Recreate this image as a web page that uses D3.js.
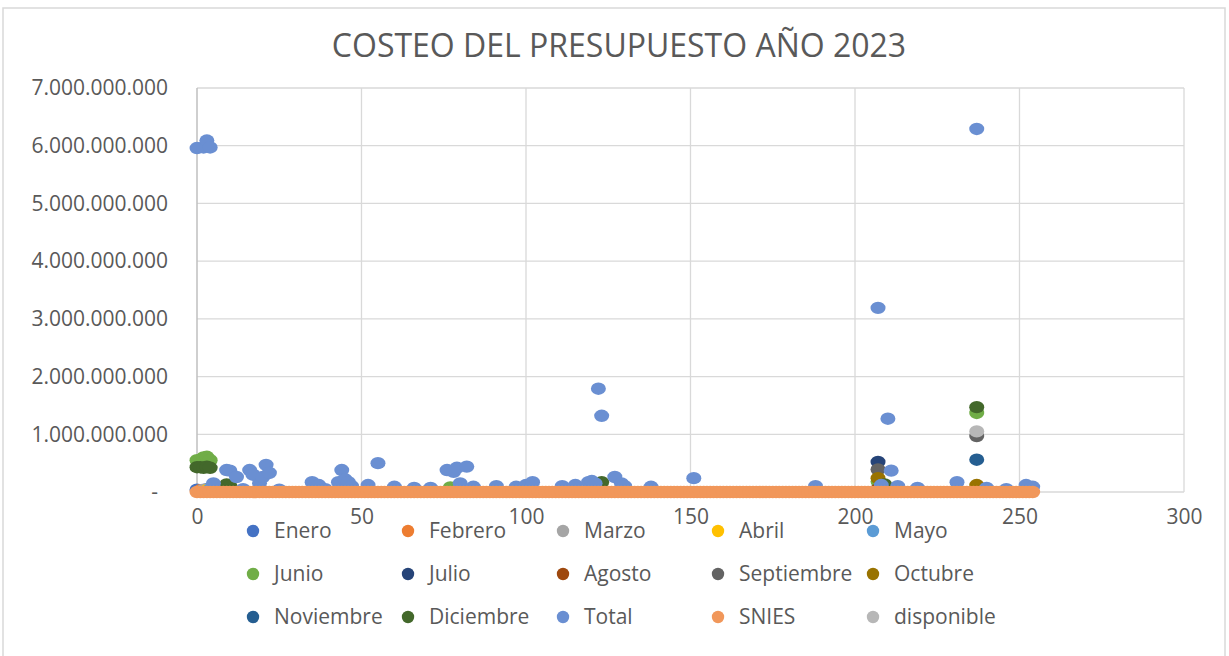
<!DOCTYPE html>
<html><head><meta charset="utf-8">
<script src="https://cdn.jsdelivr.net/npm/d3@7"></script>
<style>
html,body{margin:0;padding:0;background:#fff;}
svg{display:block;font-family:"Open Sans",sans-serif;}
</style></head>
<body>
<svg id="chart" width="1229" height="656"></svg>
<script>
// ---- data (values in pesos; x = row index) ----
const title = "COSTEO DEL PRESUPUESTO AÑO 2023";
const xTicks = [0, 50, 100, 150, 200, 250, 300];
const yTicks = [0, 1e9, 2e9, 3e9, 4e9, 5e9, 6e9, 7e9];

const enero = [[0, 0.04e9], [3, 0.05e9], [120, 0.03e9]];
const febrero = [[1, 0.03e9], [207, 0.04e9]];
const marzo = [[2, 0.04e9], [237, 0.05e9]];
const abril = [[3, 0.03e9], [207, 0.05e9]];
const mayo = [[4, 0.05e9], [207, 0.06e9]];
const junio = [[0, 0.55e9], [2, 0.60e9], [3, 0.61e9], [4, 0.55e9], [77, 0.08e9], [122, 0.09e9], [207, 0.18e9], [237, 1.37e9]];
const julio = [[207, 0.52e9]];
const agosto = [[207, 0.05e9], [237, 0.04e9]];
const septiembre = [[207, 0.39e9], [237, 0.97e9]];
const octubre = [[207, 0.24e9], [237, 0.12e9]];
const noviembre = [[237, 0.56e9]];
const diciembre = [[0, 0.43e9], [1, 0.43e9], [2, 0.42e9], [3, 0.44e9], [4, 0.42e9], [9, 0.13e9], [10, 0.10e9], [123, 0.17e9], [209, 0.13e9], [237, 1.47e9]];
const total = [
  [0, 5.96e9], [2, 5.97e9], [3, 6.09e9], [4, 5.97e9],
  [5, 0.15e9], [9, 0.38e9], [10, 0.37e9], [12, 0.26e9], [14, 0.05e9], [16, 0.38e9], [17, 0.30e9],
  [19, 0.15e9], [20, 0.26e9], [21, 0.47e9], [22, 0.33e9], [25, 0.04e9], [35, 0.17e9], [37, 0.12e9],
  [39, 0.05e9], [43, 0.17e9], [44, 0.38e9], [45, 0.22e9], [46, 0.17e9], [47, 0.10e9], [52, 0.12e9],
  [55, 0.50e9], [60, 0.09e9], [66, 0.07e9], [71, 0.07e9], [76, 0.38e9], [78, 0.35e9], [79, 0.42e9],
  [80, 0.15e9], [82, 0.44e9], [84, 0.09e9], [91, 0.10e9], [97, 0.09e9], [100, 0.12e9], [102, 0.17e9],
  [111, 0.10e9], [115, 0.12e9], [119, 0.17e9], [120, 0.19e9], [121, 0.15e9], [122, 1.79e9], [123, 1.32e9],
  [127, 0.26e9], [129, 0.15e9], [130, 0.10e9], [138, 0.09e9], [151, 0.24e9], [188, 0.10e9],
  [207, 3.19e9], [208, 0.12e9], [210, 1.27e9], [211, 0.37e9], [213, 0.10e9], [219, 0.07e9],
  [231, 0.17e9], [237, 6.29e9], [240, 0.07e9], [246, 0.05e9], [252, 0.12e9], [254, 0.09e9]
];
// SNIES: value per row (rows 0..254), all read as ~0 on this scale
const sniesValues = [
  0,0,0,0,0,0,0,0,0,0,0,0,0,0,0,0,0,0,0,0,0,0,0,0,0,0,0,0,0,0,0,0,0,0,0,0,0,0,0,0,0,0,0,0,0,0,0,0,0,0,0,
  0,0,0,0,0,0,0,0,0,0,0,0,0,0,0,0,0,0,0,0,0,0,0,0,0,0,0,0,0,0,0,0,0,0,0,0,0,0,0,0,0,0,0,0,0,0,0,0,0,0,0,
  0,0,0,0,0,0,0,0,0,0,0,0,0,0,0,0,0,0,0,0,0,0,0,0,0,0,0,0,0,0,0,0,0,0,0,0,0,0,0,0,0,0,0,0,0,0,0,0,0,0,0,
  0,0,0,0,0,0,0,0,0,0,0,0,0,0,0,0,0,0,0,0,0,0,0,0,0,0,0,0,0,0,0,0,0,0,0,0,0,0,0,0,0,0,0,0,0,0,0,0,0,0,0,
  0,0,0,0,0,0,0,0,0,0,0,0,0,0,0,0,0,0,0,0,0,0,0,0,0,0,0,0,0,0,0,0,0,0,0,0,0,0,0,0,0,0,0,0,0,0,0,0,0,0,0
];
const snies = sniesValues.map((v, i) => [i, v]);
const disponible = [[237, 1.05e9]];

const seriesNames = ["Enero","Febrero","Marzo","Abril","Mayo","Junio","Julio","Agosto","Septiembre","Octubre","Noviembre","Diciembre","Total","SNIES","disponible"];
const seriesData = [enero,febrero,marzo,abril,mayo,junio,julio,agosto,septiembre,octubre,noviembre,diciembre,total,snies,disponible];
const seriesColors = ["#4472C4","#ED7D31","#A5A5A5","#FFC000","#5B9BD5","#70AD47","#264478","#9E480E","#636363","#997300","#255E91","#43682B","#6A8FD2","#F1975A","#B7B7B7"];

// ---- drawing ----
const svg = d3.select("#chart");
const textCol = "#595959";
svg.append("rect").attr("x", 3).attr("y", 8).attr("width", 1222).attr("height", 660)
  .attr("fill", "#fff").attr("stroke", "#D9D9D9").attr("stroke-width", 1.5);

svg.append("text").attr("x", 619).attr("y", 57).attr("text-anchor", "middle")
  .attr("font-size", 32).attr("fill", textCol).text(title);

const x = d3.scaleLinear().domain([0, 300]).range([197, 1184]);
const y = d3.scaleLinear().domain([0, 7e9]).range([492, 88]);

// gridlines
svg.append("g").selectAll("line").data(yTicks).join("line")
  .attr("x1", x(0)).attr("x2", x(300)).attr("y1", d => y(d)).attr("y2", d => y(d))
  .attr("stroke", "#D9D9D9").attr("stroke-width", 1.3);
svg.append("g").selectAll("line").data(xTicks.slice(1)).join("line")
  .attr("x1", d => x(d)).attr("x2", d => x(d)).attr("y1", y(0)).attr("y2", y(7e9))
  .attr("stroke", "#D9D9D9").attr("stroke-width", 1.3);
svg.append("line").attr("x1", x(0)).attr("x2", x(0)).attr("y1", y(0)).attr("y2", y(7e9))
  .attr("stroke", "#BFBFBF").attr("stroke-width", 1.5);

// y axis labels
const fmtY = v => v === 0 ? "-" : d3.format(",")(v).replace(/,/g, ".");
const yAxis = d3.axisLeft(y).tickValues(yTicks).tickFormat(fmtY).tickSize(0).tickPadding(0);
const gy = svg.append("g").attr("transform", "translate(168,0)").call(yAxis);
gy.select(".domain").remove();
gy.selectAll("text").attr("font-size", 21).attr("font-family", "Open Sans").attr("fill", textCol)
  .attr("dx", d => d === 0 ? -10 : 0);

// x axis labels
const xAxis = d3.axisBottom(x).tickValues(xTicks).tickFormat(d3.format("d")).tickSize(0).tickPadding(0);
const gx = svg.append("g").attr("transform", "translate(0,509)").call(xAxis);
gx.select(".domain").remove();
gx.selectAll("text").attr("font-size", 21).attr("font-family", "Open Sans").attr("fill", textCol);

// points
const plot = svg.append("g");
seriesData.forEach((data, i) => {
  plot.append("g").selectAll("ellipse").data(data).join("ellipse")
    .attr("cx", d => x(d[0])).attr("cy", d => y(d[1]))
    .attr("rx", 7.5).attr("ry", 6.2)
    .attr("fill", seriesColors[i]);
});

// legend
const legend = svg.append("g");
seriesNames.forEach((name, i) => {
  const col = i % 5, row = Math.floor(i / 5);
  const lx = 253 + col * 155, ly = 531 + row * 43;
  legend.append("circle").attr("cx", lx).attr("cy", ly).attr("r", 6.2).attr("fill", seriesColors[i]);
  legend.append("text").attr("x", lx + 21).attr("y", ly).attr("dy", "0.35em")
    .attr("font-size", 21).attr("fill", textCol).text(name);
});
</script>
</body></html>
